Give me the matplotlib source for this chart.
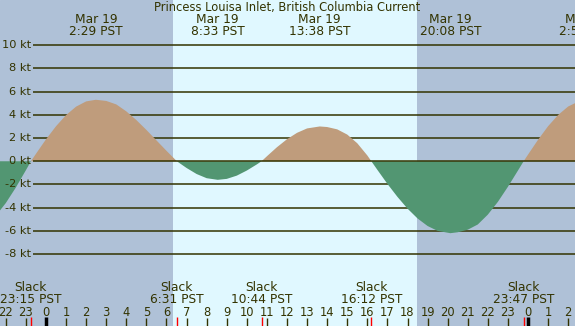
import matplotlib
matplotlib.use('Agg')
import matplotlib.pyplot as plt
import matplotlib.transforms as mtransforms

# часы от полуночи 19 марта и скорость течения (узлы)
hours = [-2.5, -2.0, -1.5, -1.0, -0.75, -0.5, 0.0, 0.5, 1.0, 1.5, 2.0, 2.483,
         3.0, 3.5, 4.0, 4.5, 5.0, 5.5, 6.0, 6.517, 7.0, 7.5, 8.0, 8.55,
         9.0, 9.5, 10.0, 10.5, 10.733, 11.0, 11.5, 12.0, 12.5, 13.0, 13.633,
         14.0, 14.5, 15.0, 15.5, 16.0, 16.2, 16.5, 17.0, 17.5, 18.0, 18.5,
         19.0, 19.5, 20.133, 20.5, 21.0, 21.5, 22.0, 22.5, 23.0, 23.5, 23.783,
         24.0, 24.5, 25.0, 25.5, 26.0, 26.5, 26.9]
speed = [-4.70, -3.60, -2.26, -0.77, 0.0, 0.64, 1.89, 3.02, 3.98, 4.71, 5.16, 5.30,
         5.20, 4.90, 4.30, 3.55, 2.70, 1.80, 0.90, 0.0, -0.58, -1.10, -1.46, -1.60,
         -1.52, -1.24, -0.80, -0.27, 0.0, 0.43, 1.21, 1.90, 2.45, 2.83, 3.00,
         2.95, 2.75, 2.30, 1.55, 0.50, 0.0, -0.74, -1.95, -3.07, -4.08, -4.93,
         -5.58, -6.00, -6.20, -6.12, -5.90, -5.45, -4.60, -3.50, -2.20, -0.80, 0.0,
         0.57, 1.85, 3.02, 3.99, 4.72, 5.14, 5.25]

# максимумы / минимумы (подписи сверху)
peak_hours = [2.483, 8.55, 13.633, 20.133, 26.9]
peak_dates = ['Mar 19', 'Mar 19', 'Mar 19', 'Mar 19', 'Mar 20']
peak_times = ['2:29 PST', '8:33 PST', '13:38 PST', '20:08 PST', '2:54 PST']

# смены течения (подписи снизу)
slack_hours = [-0.75, 6.517, 10.733, 16.2, 23.783]
slack_times = ['23:15 PST', '6:31 PST', '10:44 PST', '16:12 PST', '23:47 PST']

sunrise = 6.32
sunset = 18.48
kt_levels = [-8, -6, -4, -2, 0, 2, 4, 6, 8, 10]
hour_ticks = list(range(-2, 27))

night = '#afc1d7'
day = '#e0f8ff'
tan = '#bf9c7c'
green = '#529672'
ink = '#333300'


def py(y):
    # пиксели сверху -> доля оси
    return 1 - y / 326


fig = plt.figure(figsize=(5.75, 3.26), dpi=100)
ax = fig.add_axes([0, 0, 1, 1])
ax.set_xlim(-2.29, 26.34)
ax.set_ylim(-14.2, 13.9)
ax.axis('off')
ax.add_patch(plt.Rectangle((0, 0), 1, 1, transform=ax.transAxes, color=night, zorder=0))
ax.axvspan(sunrise, sunset, color=day, zorder=1, lw=0)

trans = mtransforms.blended_transform_factory(ax.transData, ax.transAxes)

# сетка
for k in kt_levels:
    z = 4 if k == 0 else 2
    ax.hlines(k, -0.647, 26.34, color=ink, lw=1.1, zorder=z)
    ax.text(-0.74, k, f'{k} kt', ha='right', va='center', fontsize=8.2, color=ink, zorder=5)

ax.fill_between(hours, speed, 0, where=[s >= 0 for s in speed], interpolate=True,
                color=tan, lw=0, zorder=3)
ax.fill_between(hours, speed, 0, where=[s <= 0 for s in speed], interpolate=True,
                color=green, lw=0, zorder=3)

ax.text(0.499, py(7.5), 'Princess Louisa Inlet, British Columbia Current',
        transform=ax.transAxes, ha='center', va='center', fontsize=8.3, color=ink)

for h, d, t in zip(peak_hours, peak_dates, peak_times):
    ax.text(h, py(19.5), d, transform=trans, ha='center', va='center', fontsize=8.8, color=ink)
    ax.text(h, py(31.5), t, transform=trans, ha='center', va='center', fontsize=8.8, color=ink)

for h, t in zip(slack_hours, slack_times):
    ax.text(h, py(287.5), 'Slack', transform=trans, ha='center', va='center', fontsize=8.8, color=ink)
    ax.text(h, py(299.5), t, transform=trans, ha='center', va='center', fontsize=8.8, color=ink)

for h in hour_ticks:
    ax.text(h, py(312), str(h % 24), transform=trans, ha='center', va='center',
            fontsize=8.3, color=ink, family=['DejaVu Sans Condensed', 'DejaVu Sans'])
    if h % 24 == 0:
        ax.vlines(h, 0, 9 / 326, transform=trans, color='black', lw=2.5, zorder=6)
    else:
        ax.vlines(h, 0, 8 / 326, transform=trans, color=ink, lw=1, zorder=6)
for h in slack_hours:
    ax.vlines(h, 0, 9 / 326, transform=trans, color='red', lw=1, zorder=6)

fig.savefig('out.png', dpi=100)
